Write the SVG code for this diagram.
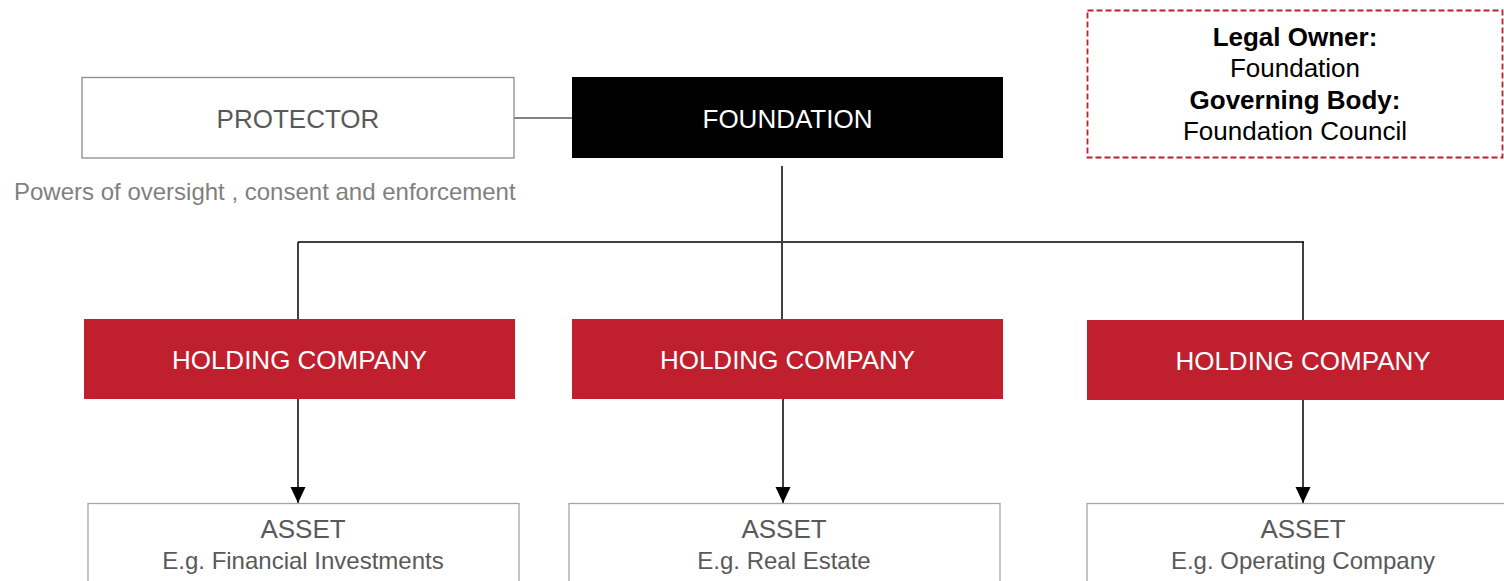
<svg xmlns="http://www.w3.org/2000/svg" width="1504" height="581" viewBox="0 0 1504 581">
<style>
text{font-family:"Liberation Sans",Arial,sans-serif;text-anchor:middle}
.lbl{font-size:26px}
.gray{fill:#595959}
.white{fill:#ffffff}
.red{fill:#c01f2e}
.wbox{fill:#ffffff;stroke:#8c8c8c;stroke-width:1.3}
.abox{fill:#ffffff;stroke:#a6a6a6;stroke-width:1.3}
.conn{stroke:#000;stroke-width:1.5;fill:none}
.sub{font-size:24px}
.note{font-size:26px;fill:#000}
</style>
<defs>
<marker id="arr" markerWidth="16" markerHeight="16" refX="16" refY="8" orient="auto" markerUnits="userSpaceOnUse">
<path d="M0,0.5 L16,8 L0,15.5 Z" fill="#000"/>
</marker>
</defs>
<g id="connectors">
<line x1="514" y1="118" x2="572" y2="118" stroke="#595959" stroke-width="1.5"/>
<line class="conn" x1="782" y1="166" x2="782" y2="319"/>
<line x1="298" y1="242" x2="1304" y2="242" stroke="#404040" stroke-width="1.8"/>
<line class="conn" x1="298" y1="242" x2="298" y2="319"/>
<line class="conn" x1="1303" y1="242" x2="1303" y2="320"/>
<line class="conn" x1="298" y1="399" x2="298" y2="503" marker-end="url(#arr)"/>
<line class="conn" x1="783" y1="399" x2="783" y2="503" marker-end="url(#arr)"/>
<line class="conn" x1="1303" y1="400" x2="1303" y2="503" marker-end="url(#arr)"/>
</g>
<g id="protector">
<rect class="wbox" x="82" y="77.5" width="432" height="80.5"/>
<text class="lbl gray" x="298" y="128">PROTECTOR</text>
</g>
<g id="protector-note">
<text x="14" y="200" style="font-size:24px;text-anchor:start;fill:#7f7f7f">Powers of oversight , consent and enforcement</text>
</g>
<g id="foundation">
<rect x="572" y="77" width="431" height="81" fill="#000"/>
<text class="lbl white" x="787.5" y="128">FOUNDATION</text>
</g>
<g id="legal-note">
<rect x="1087.5" y="10.5" width="415" height="147" fill="#fff" stroke="#c01f2e" stroke-width="1.8" stroke-dasharray="6,3"/>
<text class="note" x="1295" y="46" font-weight="bold">Legal Owner:</text>
<text class="note" x="1295" y="77">Foundation</text>
<text class="note" x="1295" y="109" font-weight="bold">Governing Body:</text>
<text class="note" x="1295" y="140">Foundation Council</text>
</g>
<g id="holding1">
<rect class="red" x="84" y="319" width="431" height="80"/>
<text class="lbl white" x="299.5" y="369">HOLDING COMPANY</text>
</g>
<g id="holding2">
<rect class="red" x="572" y="319" width="431" height="80"/>
<text class="lbl white" x="787.5" y="369">HOLDING COMPANY</text>
</g>
<g id="holding3">
<rect class="red" x="1087" y="320" width="417" height="80"/>
<text class="lbl white" x="1303" y="370">HOLDING COMPANY</text>
</g>
<g id="asset1">
<rect class="abox" x="88" y="503.5" width="431" height="90"/>
<text class="lbl gray" x="303" y="538">ASSET</text>
<text class="sub gray" x="303" y="569">E.g. Financial Investments</text>
</g>
<g id="asset2">
<rect class="abox" x="569" y="503.5" width="431" height="90"/>
<text class="lbl gray" x="784" y="538">ASSET</text>
<text class="sub gray" x="784" y="569">E.g. Real Estate</text>
</g>
<g id="asset3">
<rect class="abox" x="1087" y="503.5" width="430" height="90"/>
<text class="lbl gray" x="1303" y="538">ASSET</text>
<text class="sub gray" x="1303" y="569">E.g. Operating Company</text>
</g>
</svg>
